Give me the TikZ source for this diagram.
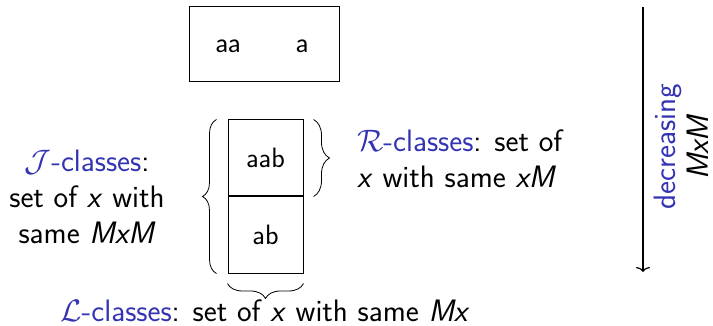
\RequirePackage{fix-cm}
\documentclass[tikz,border=0pt]{standalone}
\usepackage{fontspec}
\usetikzlibrary{decorations.pathreplacing,arrows.meta}
\newfontfamily\calibrilike{Carlito}
\definecolor{struct}{RGB}{51,51,179}
\tikzset{
  px/.style={x=1pt,y=-1pt},
  cellbox/.style={draw,line width=1pt,minimum width=75pt,minimum height=76pt,inner sep=0pt,
    font=\sffamily\fontsize{28}{34}\selectfont},
  lbl/.style={font=\sffamily\fontsize{31}{36}\selectfont,inner sep=0pt,align=center},
  bracedec/.style={decorate,decoration={brace,amplitude=#1},line width=0.8pt},
}
\newcommand{\vx}{\textit{x}}
\begin{document}
\begin{tikzpicture}[px]
  \useasboundingbox (0,0) rectangle (713,326);
  % top box holding aa and a
  \node[draw,line width=1pt,minimum width=150pt,minimum height=75pt,inner sep=0pt] (top) at (264,44.5) {};
  \node[font=\calibrilike\fontsize{26}{30}\selectfont] (aa) at (228,46) {aa};
  \node[font=\calibrilike\fontsize{26}{30}\selectfont] (a) at (302,46) {a};
  % the column of two cells
  \node[cellbox] (aab) at (265.5,158) {aab};
  \node[cellbox,anchor=north] (ab) at (aab.south) {ab};
  % braces
  \draw[bracedec=14pt] ([xshift=-11pt]ab.south west) -- ([xshift=-11pt]aab.north west);
  \draw[bracedec=16pt] ([xshift=10pt]aab.north east) -- ([xshift=10pt]aab.south east);
  \draw[bracedec=15pt] ([yshift=-10pt]ab.south east) -- ([yshift=-10pt]ab.south west);
  % labels
  \node[lbl] (jlab) at (87,197) {\textcolor{struct}{$\mathcal{J}$-classes}:\\set of \vx{} with\\same \textit{MxM}};
  \node[lbl,align=left,anchor=west] (rlab) at (357,159) {\textcolor{struct}{$\mathcal{R}$-classes}: set of\\\vx{} with same \textit{xM}};
  \node[lbl,anchor=base] (llab) at (265,321) {\textcolor{struct}{$\mathcal{L}$-classes}: set of \vx{} with same \textit{Mx}};
  % ordering arrow
  \coordinate (arrtop) at (643,7);
  \coordinate (arrbot) at (643,272);
  \draw[line width=1.2pt,-{To[length=5pt,width=14pt]}] (arrtop) -- (arrbot);
  \node[lbl,rotate=90,text=struct,anchor=base] (dec) at (675,147) {decreasing};
  \node[lbl,rotate=90,anchor=base] (mxm) at (708.5,147) {\textit{MxM}};
\end{tikzpicture}
\end{document}
